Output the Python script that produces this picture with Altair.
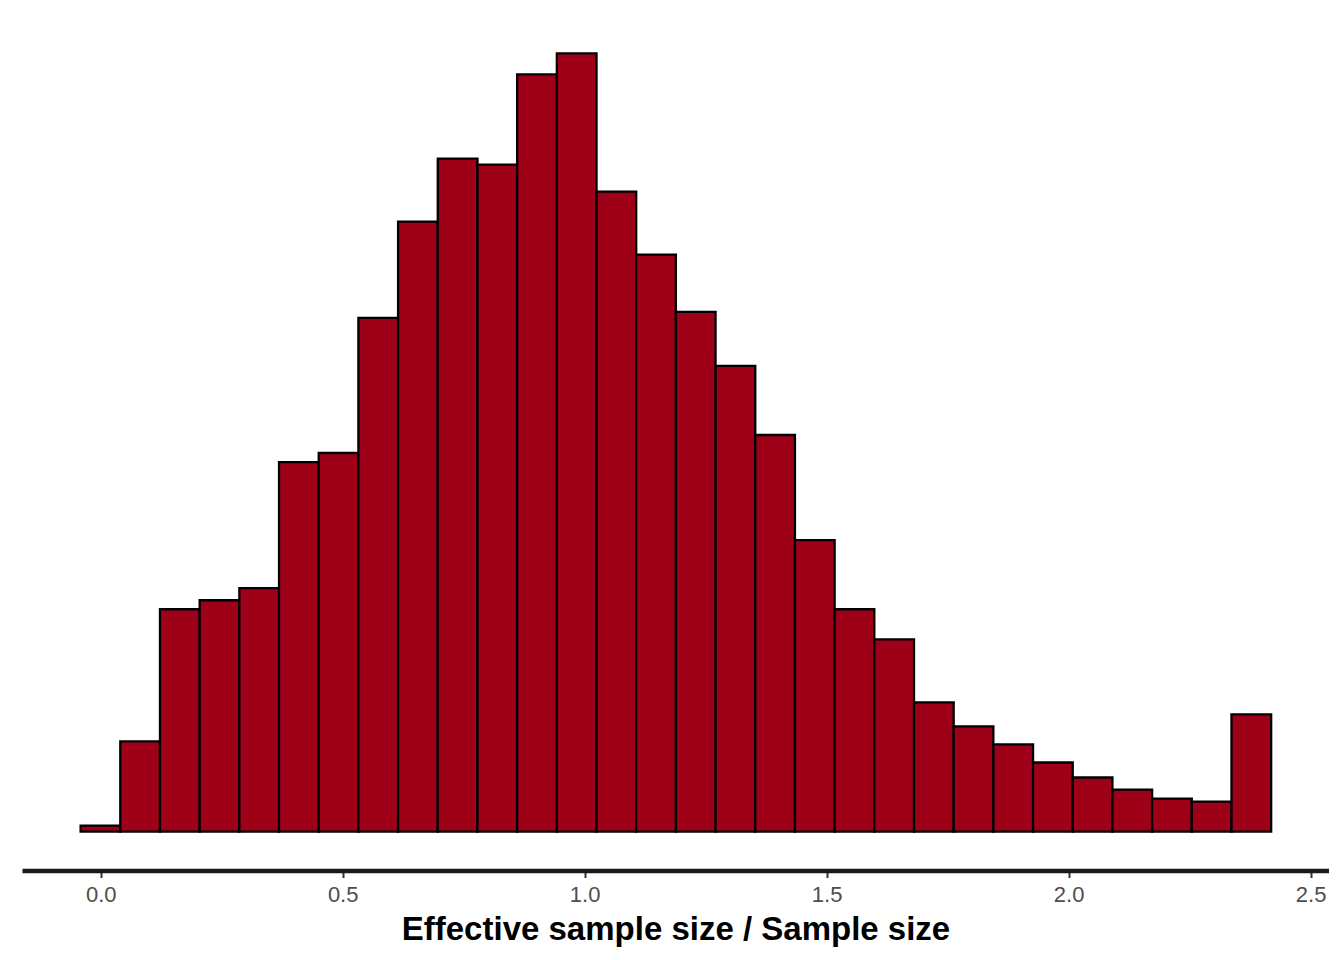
import altair as alt
import pandas as pd

# Histogram counts (30 bins)
counts = [2, 30, 74, 77, 81, 123, 126, 171, 203, 224,
          222, 252, 259, 213, 192, 173, 155, 132, 97, 74,
          64, 43, 35, 29, 23, 18, 14, 11, 10, 39]
first_edge = -0.0415
bin_width = 0.082
x_ticks = [0.0, 0.5, 1.0, 1.5, 2.0, 2.5]
x_domain = [-0.1626, 2.538]

starts = [first_edge + i * bin_width for i in range(len(counts))]
df = pd.DataFrame({
    "start": starts,
    "end": [s + bin_width for s in starts],
    "count": counts,
})

ymax = max(counts)
y_domain = [-0.05 * ymax, 1.05 * ymax]

chart = alt.Chart(df).mark_rect(
    color="#9E0018", stroke="black", strokeWidth=2.3
).encode(
    x=alt.X("start:Q",
            scale=alt.Scale(domain=x_domain, nice=False, zero=False),
            axis=alt.Axis(values=x_ticks, format=".1f",
                          title="Effective sample size / Sample size",
                          grid=False,
                          domainColor="#1a1a1a", domainWidth=4.5,
                          tickColor="#333333", tickWidth=2, tickSize=7,
                          labelPadding=7, labelFont="Liberation Sans",
                          labelFontSize=22, labelColor="#4d4d4d",
                          titleFont="Liberation Sans", titleFontSize=33,
                          titleFontWeight="bold", titleColor="black",
                          titlePadding=8)),
    x2="end:Q",
    y=alt.Y("count:Q",
            scale=alt.Scale(domain=y_domain, nice=False, zero=False),
            axis=None),
    y2=alt.datum(0),
).properties(
    width=1307, height=856,
    padding={"left": 14, "top": 6.5, "right": 0, "bottom": 0},
    background="white",
).configure_view(stroke=None)

chart.save("out.html", embed_options={"renderer": "svg", "actions": False})
